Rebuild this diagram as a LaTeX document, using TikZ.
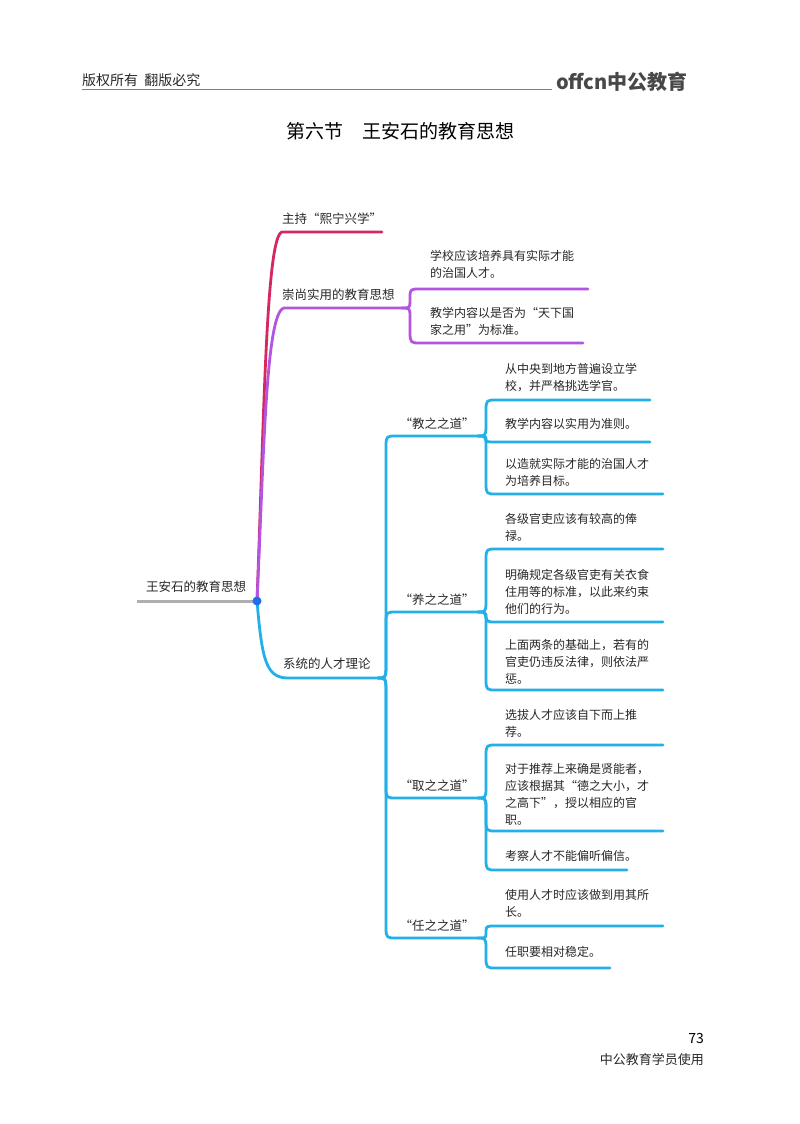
\documentclass[tikz,border=0pt]{standalone}
\usepackage{fontspec}
\setmainfont{Noto Sans CJK SC}
\definecolor{cred}{RGB}{212,40,95}
\definecolor{cpur}{RGB}{180,85,225}
\definecolor{cblu}{RGB}{35,175,232}
\definecolor{cgry}{RGB}{175,175,175}
\definecolor{cdot}{RGB}{30,110,235}
\definecolor{ctxt}{RGB}{40,40,40}
\newcommand{\fk}[7][cblu]{% color, x0,y0, ya, yb, y1, x1 ; vertical at x0+8
  \draw[#1,br] (#2,#3) .. controls (#2+7,#3) and (#2+8,#3) .. (#2+8,#4) -- (#2+8,#5) .. controls (#2+8,#6) and (#2+9,#6) .. (#2+18,#6) -- (#7,#6);}
\begin{document}
\begin{tikzpicture}[x=1pt,y=-1pt,
  lf/.style={anchor=north west,align=left,inner sep=0pt,font=\fontsize{12}{17}\selectfont,text=ctxt},
  br/.style={line width=2.8pt,line cap=round,line join=round}]
\useasboundingbox[fill=white] (0,0) rectangle (800,1124);
% header
\node[anchor=south west,inner sep=0pt,font=\fontsize{14}{14}\selectfont,text=ctxt] (hd) at (82,87) {版权所有\ \ 翻版必究};
\draw[line width=0.8pt,gray] (82,89) -- (552,89);
\node[anchor=south west,inner sep=0pt,font=\fontsize{20}{20}\selectfont\bfseries,text=ctxt!85] (logo) at (556,92) {offcn中公教育};
\node[font=\fontsize{19}{19}\selectfont,text=black] (title) at (400,131) {第六节\quad 王安石的教育思想};
% root
\coordinate (root) at (257,601);
\draw[cgry,line width=3pt] (137,601) -- (root);
\node[anchor=south,inner sep=0pt,font=\fontsize{12.5}{12.5}\selectfont,text=ctxt] (rt) at (196,593) {王安石的教育思想};
% red
\draw[cred,br] (root) .. controls (264,420) and (266,236) .. (282,232) -- (382,232);
\node[anchor=south west,inner sep=0pt,font=\fontsize{12.5}{12.5}\selectfont,text=ctxt] (r1) at (282,225) {主持“熙宁兴学”};
% purple
\draw[cpur,br] (root) .. controls (264,450) and (266,312) .. (284,308) -- (402,308);
\node[anchor=south west,inner sep=0pt,font=\fontsize{12.5}{12.5}\selectfont,text=ctxt] (p1) at (282,301) {崇尚实用的教育思想};
\fk[cpur]{402}{308}{302}{297}{289}{588}
\fk[cpur]{402}{308}{316}{332}{343}{583}
\node[lf] (p1a) at (430,250) {学校应该培养具有实际才能\\的治国人才。};
\node[lf] (p1b) at (430,307) {教学内容以是否为“天下国\\家之用”为标准。};
% blue main
\draw[cblu,br] (root) .. controls (262,660) and (266,678) .. (288,678) -- (378,678);
\fill[cdot] (root) circle (4.5);
\node[anchor=south west,inner sep=0pt,font=\fontsize{12.5}{12.5}\selectfont,text=ctxt] (b1) at (283,670) {系统的人才理论};
\fk{378}{678}{666}{446}{436}{478}
\fk{378}{678}{666}{622}{612}{478}
\fk{378}{678}{690}{788}{798}{478}
\fk{378}{678}{690}{928}{938}{478}
\foreach \t/\y in {“教之之道”/436,“养之之道”/612,“取之之道”/798,“任之之道”/938}
  \node[anchor=south,inner sep=0pt,font=\fontsize{12.5}{12.5}\selectfont,text=ctxt] at (437,\y-6) {\t};
% 教
\fk{478}{436}{426}{410}{400}{650}
\fk{478}{436}{439}{439}{442}{650}
\fk{478}{436}{446}{484}{494}{663}
\node[lf] at (505,363) {从中央到地方普遍设立学\\校，并严格挑选学官。};
\node[lf] at (505,418) {教学内容以实用为准则。};
\node[lf] at (505,458) {以造就实际才能的治国人才\\为培养目标。};
% 养
\fk{478}{612}{602}{559}{549}{663}
\fk{478}{612}{618}{614}{622}{663}
\fk{478}{612}{622}{680}{690}{663}
\node[lf] at (505,513) {各级官吏应该有较高的俸\\禄。};
\node[lf] at (505,569) {明确规定各级官吏有关衣食\\住用等的标准，以此来约束\\他们的行为。};
\node[lf] at (505,639) {上面两条的基础上，若有的\\官吏仍违反法律，则依法严\\惩。};
% 取
\fk{478}{798}{788}{755}{745}{663}
\fk{478}{798}{808}{821}{831}{663}
\fk{478}{798}{808}{860}{870}{627}
\node[lf] at (505,709) {选拔人才应该自下而上推\\荐。};
\node[lf] at (505,763) {对于推荐上来确是贤能者，\\应该根据其“德之大小，才\\之高下”，授以相应的官\\职。};
\node[lf] at (505,850) {考察人才不能偏听偏信。};
% 任
\fk{478}{938}{934}{931}{926}{663}
\fk{478}{938}{948}{958}{968}{610}
\node[lf] at (505,889) {使用人才时应该做到用其所\\长。};
\node[lf] at (505,946) {任职要相对稳定。};
% footer
\node[anchor=south east,inner sep=0pt,font=\fontsize{14}{14}\selectfont] (pg) at (704,1044) {73};
\node[anchor=south east,inner sep=0pt,font=\fontsize{13}{13}\selectfont,text=ctxt] (ft) at (704,1066) {中公教育学员使用};
\end{tikzpicture}
\end{document}
